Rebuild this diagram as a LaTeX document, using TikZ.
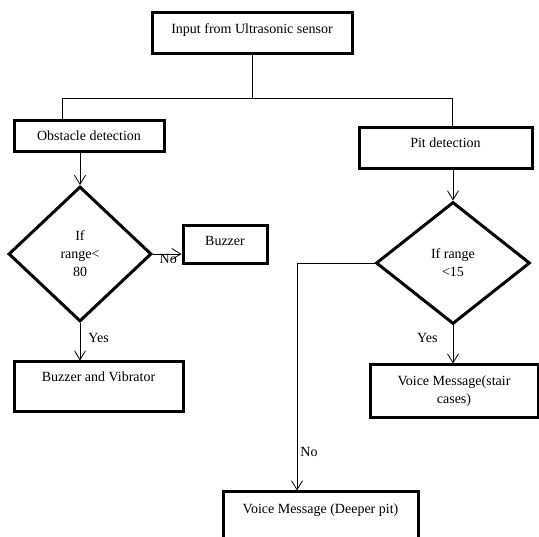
\documentclass[tikz,border=0pt]{standalone}
\usepackage{fontspec}
\setmainfont{Liberation Serif}
\usetikzlibrary{arrows.meta, shapes.geometric}

\begin{document}
\begin{tikzpicture}[
        x=1pt, y=-1pt,
        every node/.style={
            font=\fontsize{14}{18}\selectfont
        },
        block/.style={
            draw,
            rectangle,
            line width=3pt,
            inner xsep=2pt,
            inner ysep=0pt,
            text height=10pt,
            align=center
        },
        decision/.style={
            draw,
            diamond,
            line width=3pt,
            inner sep=0pt,
            align=center
        },
        link/.style={
            line width=0.8pt
        },
        flowarrow/.style={
            link,
            -{Straight Barb[length=9pt,width=11pt]}
        },
        answer/.style={
            inner sep=2pt
        }
    ]

        \clip (0,0) rectangle (539,537);

        % ---------------------------------------------------------------------
        % Sensor input and the two branches
        % ---------------------------------------------------------------------

        \node[
            block,
            minimum width=200pt,
            minimum height=41pt,
            text depth=9pt
        ] (input) at (252,33.5) {Input from Ultrasonic sensor};

        \node[
            block,
            minimum width=150pt,
            minimum height=31pt,
            text depth=1pt
        ] (obstacle) at (89,136.5) {Obstacle detection};

        \node[
            block,
            minimum width=173pt,
            minimum height=41pt,
            text depth=11pt
        ] (pit) at (445.5,148.5) {Pit detection};

        \coordinate (lefttap) at (62,98);
        \coordinate (righttap) at (452,98);

        \draw[link]
            (input.south) -- (input.south |- lefttap);

        \draw[link]
            (lefttap) -- (righttap);

        \draw[link]
            (lefttap) -- (lefttap |- obstacle.north);

        \draw[link]
            (righttap) -- (righttap |- pit.north);


        % ---------------------------------------------------------------------
        % Obstacle branch
        % ---------------------------------------------------------------------

        \node[
            decision,
            minimum width=143pt,
            minimum height=135pt
        ] (obstaclecheck) at (80,254) {If\\range<\\80};

        \node[
            block,
            minimum width=84pt,
            minimum height=38pt,
            text depth=8pt
        ] (buzzer) at (225,245) {Buzzer};

        \node[
            block,
            minimum width=169pt,
            minimum height=50pt,
            text depth=20pt
        ] (vibrator) at (98.5,387) {Buzzer and Vibrator};

        \draw[flowarrow]
            (obstaclecheck.north |- obstacle.south) -- (obstaclecheck.north);

        \draw[flowarrow]
            (obstaclecheck.east) -- (obstaclecheck.east -| buzzer.west)
            node[answer, anchor=north west, pos=0.15, yshift=2pt] {No};

        \draw[flowarrow]
            (obstaclecheck.south) -- (obstaclecheck.south |- vibrator.north)
            node[answer, right=6pt, pos=0.4] {Yes};


        % ---------------------------------------------------------------------
        % Pit branch
        % ---------------------------------------------------------------------

        \node[
            decision,
            minimum width=154pt,
            minimum height=122pt
        ] (pitcheck) at (453,263) {If range\\<15};

        \node[
            block,
            minimum width=168pt,
            minimum height=53pt,
            text height=28pt,
            text depth=3pt
        ] (stairs) at (454,391.5) {Voice Message(stair\\cases)};

        \node[
            block,
            minimum width=195pt,
            minimum height=60pt,
            text depth=26pt
        ] (deeper) at (320.5,522) {Voice Message (Deeper pit)};

        \coordinate (nobend) at (297,300);

        \draw[flowarrow]
            (pitcheck.north |- pit.south) -- (pitcheck.north);

        \draw[flowarrow]
            (pitcheck.south) -- (pitcheck.south |- stairs.north)
            node[answer, left=13pt, pos=0.32] {Yes};

        % The "No" case leaves to the left and drops down to the last box.
        \draw[flowarrow]
            (pitcheck.west) -| (nobend |- deeper.north)
            node[answer, right=1pt, pos=0.915] {No};

    \end{tikzpicture}
\end{document}
